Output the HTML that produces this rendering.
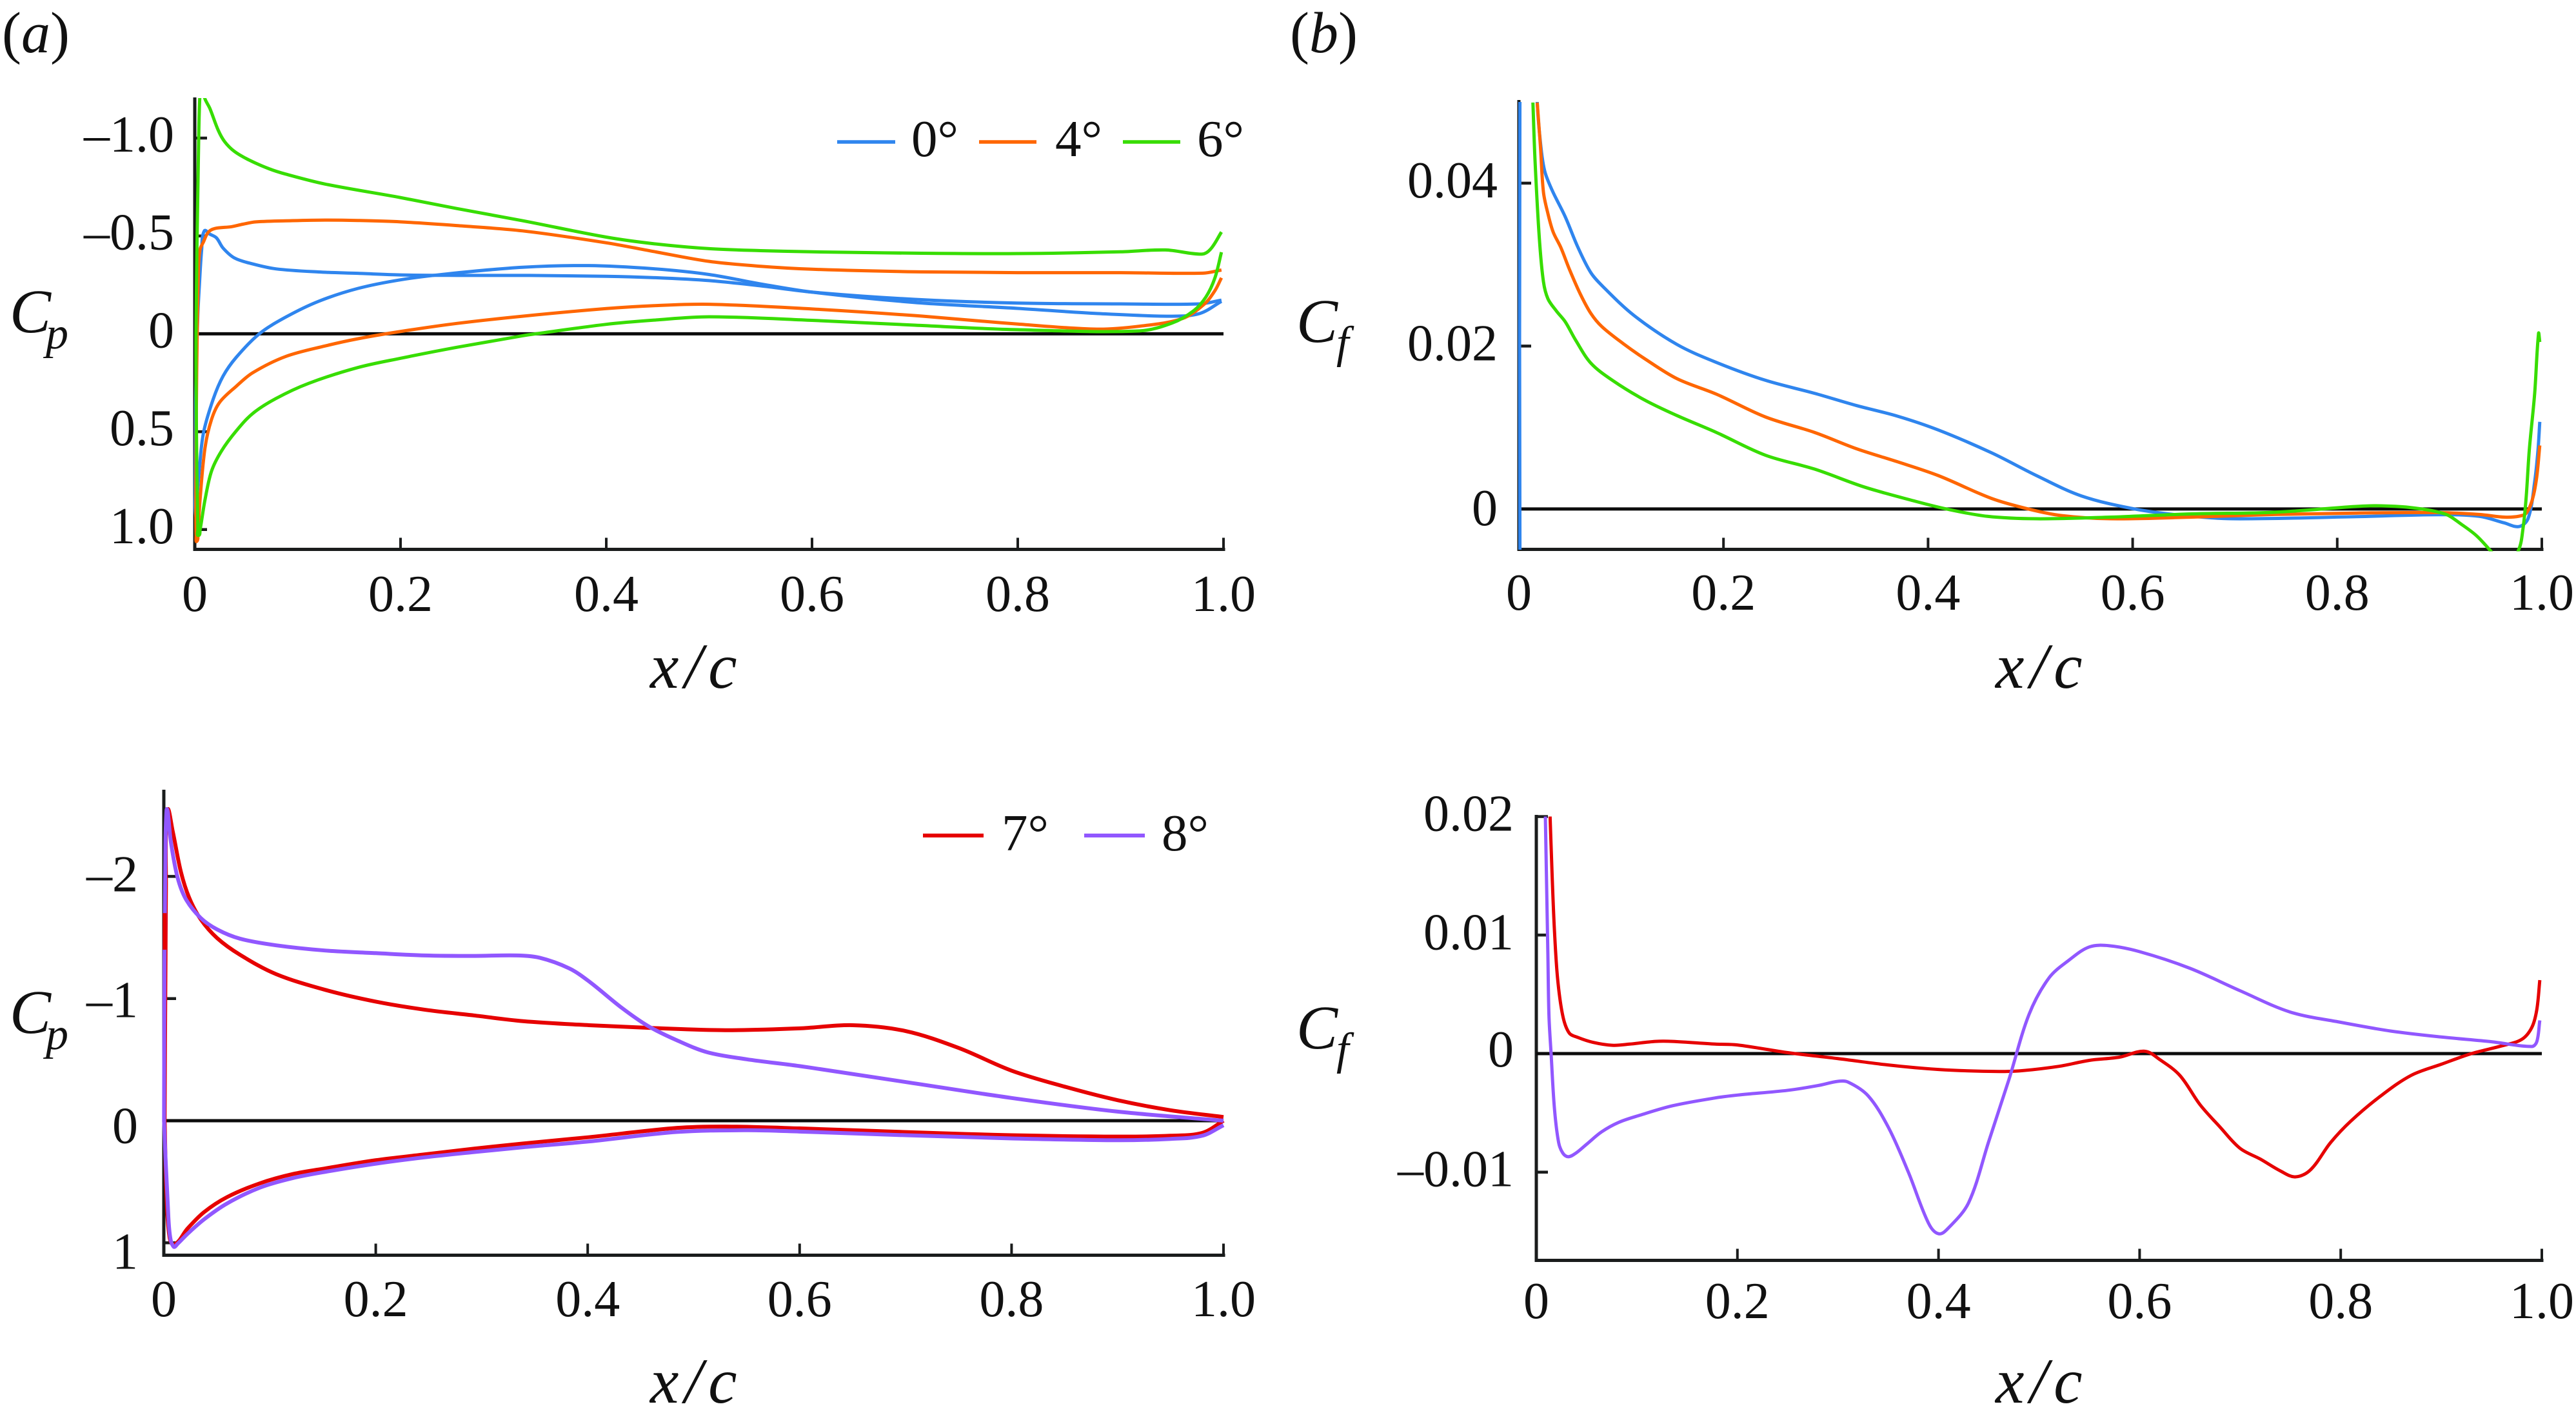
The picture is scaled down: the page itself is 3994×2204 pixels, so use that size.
<!DOCTYPE html>
<html lang="en">
<head>
<meta charset="utf-8">
<title>Pressure and skin friction coefficients</title>
<style>
html,body{margin:0;padding:0;background:#fff;width:3994px;height:2204px;overflow:hidden}
svg{display:block}
text{font-family:"Liberation Serif","Times New Roman",serif;fill:#111}
.tick{font-size:80px}
.leg{font-size:81px}
.it{font-style:italic}
.title{font-size:100px;font-style:italic}
.sym{font-size:96px;font-style:italic}
.sub{font-size:70px;font-style:italic}
.tag{font-size:90px}
</style>
</head>
<body>
<svg id="figure" xmlns="http://www.w3.org/2000/svg" width="3994" height="2204" viewBox="0 0 3994 2204">
  <rect width="3994" height="2204" fill="#fff"/>

  <text class="tag" x="3" y="81">(<tspan class="it">a</tspan>)</text>
  <text class="tag" x="2000" y="81">(<tspan class="it">b</tspan>)</text>

  <text x="15" y="515"><tspan class="sym">C</tspan><tspan class="sub" dx="-8" dy="25">p</tspan></text>
  <text x="2010" y="530"><tspan class="sym">C</tspan><tspan class="sub" dx="-2" dy="24">f</tspan></text>
  <text x="15" y="1601"><tspan class="sym">C</tspan><tspan class="sub" dx="-8" dy="25">p</tspan></text>
  <text x="2010" y="1625"><tspan class="sym">C</tspan><tspan class="sub" dx="-2" dy="24">f</tspan></text>

  <text class="title" x="1008" y="1066" letter-spacing="9">x/c</text>
  <text class="title" x="3094" y="1066" letter-spacing="9">x/c</text>
  <text class="title" x="1008" y="2174" letter-spacing="9">x/c</text>
  <text class="title" x="3094" y="2174" letter-spacing="9">x/c</text>

  <g id="marks"></g>

  <g>
    <g>
      <line x1="1298" y1="220" x2="1388" y2="220" stroke="#2f85ee" stroke-width="5.5"/>
      <text class="leg" x="1413" y="242">0°</text>
    </g>
    <g>
      <line x1="1518" y1="220" x2="1607" y2="220" stroke="#ff6600" stroke-width="5.5"/>
      <text class="leg" x="1636" y="242">4°</text>
    </g>
    <g>
      <line x1="1741" y1="220" x2="1830" y2="220" stroke="#37dd00" stroke-width="5.5"/>
      <text class="leg" x="1856" y="242">6°</text>
    </g>
  </g>
  <g>
    <g>
      <line x1="1431" y1="1295" x2="1525" y2="1295" stroke="#e60000" stroke-width="6"/>
      <text class="leg" x="1553" y="1318">7°</text>
    </g>
    <g>
      <line x1="1681" y1="1295" x2="1775" y2="1295" stroke="#9157ff" stroke-width="6"/>
      <text class="leg" x="1801" y="1318">8°</text>
    </g>
  </g>
</svg>

<script>
// Shared x-axis values
const xTickValues = [0, 0.2, 0.4, 0.6, 0.8, 1.0];
const xTickLabels = ['0', '0.2', '0.4', '0.6', '0.8', '1.0'];

// Panel a, Cp ticks
const aTickValues = [-1.0, -0.5, 0, 0.5, 1.0];
const aTickLabels = ['–1.0', '–0.5', '0', '0.5', '1.0'];
// Panel b, Cf ticks
const bTickValues = [0.04, 0.02, 0];
const bTickLabels = ['0.04', '0.02', '0'];
// Panel c, Cp ticks
const cTickValues = [-2, -1, 0, 1];
const cTickLabels = ['–2', '–1', '0', '1'];
// Panel d, Cf ticks
const dTickValues = [0.02, 0.01, 0, -0.01];
const dTickLabels = ['0.02', '0.01', '0', '–0.01'];

// Panel a, 0 degrees
const a0UpperX = [.0005,.001,.003,.0045,.0067,.0093,.0147,.0211,.0275,.0387,.0563,.0787,.1203,.1587,.2,.2546,.3186,.4,.4466,.5,.55,.6,.7,.8,.9,.977,.998];
const a0UpperCp = [.8,.3,-.1,-.25,-.431,-.526,-.509,-.49,-.438,-.387,-.357,-.332,-.316,-.309,-.301,-.2985,-.2985,-.294,-.287,-.272,-.245,-.213,-.176,-.157,-.153,-.153,-.172];
const a0LowerX = [.0005,.001,.002,.004,.0083,.0179,.0275,.0403,.0627,.0883,.1203,.1587,.2,.245,.3186,.3826,.4466,.5,.55,.6,.7,.8,.8767,.95,.977,.998];
const a0LowerCp = [.8,.93,.85,.72,.51,.334,.216,.12,0,-.085,-.166,-.232,-.276,-.306,-.34,-.3485,-.332,-.303,-.255,-.213,-.16,-.13,-.104,-.09,-.104,-.166];
// Panel a, 4 degrees
const a4UpperX = [.001,.0015,.002,.0036,.0051,.0083,.0131,.0195,.0355,.0467,.0595,.0947,.1267,.1587,.2,.2546,.3186,.4,.4466,.5,.55,.6,.7,.8,.9,.98,.998];
const a4UpperCp = [.9,.4,.14,-.33,-.431,-.468,-.519,-.538,-.547,-.56,-.572,-.578,-.581,-.579,-.572,-.553,-.526,-.465,-.42,-.37,-.345,-.33,-.317,-.3125,-.3125,-.31,-.326];
const a4LowerX = [.001,.0013,.002,.003,.0051,.0099,.0163,.0243,.0403,.0563,.0883,.1267,.1587,.2,.2546,.3186,.4,.4466,.5,.6,.7,.8,.8767,.9185,.96,.981,.9916,.998];
const a4LowerCp = [.9,1.03,1.06,1.02,.849,.584,.437,.349,.268,.199,.116,.062,.025,-.012,-.053,-.09,-.129,-.144,-.151,-.127,-.093,-.05,-.024,-.039,-.078,-.15,-.22,-.286];
// Panel a, 6 degrees
const a6UpperX = [.0012,.0012,.002,.0035,.0048,.0070,.0093,.0147,.0227,.029,.0387,.0531,.0723,.0883,.1267,.2,.2546,.3186,.4,.4466,.5,.55,.6,.7,.8,.9,.9436,.979,.9875,.998];
const a6UpperCp = [.22,0,-.4,-.9,-1.2,-1.32,-1.21,-1.151,-1.041,-.982,-.931,-.887,-.843,-.816,-.765,-.696,-.64,-.578,-.494,-.46,-.435,-.425,-.419,-.412,-.41,-.419,-.4285,-.407,-.433,-.52];
const a6LowerX = [.0012,.002,.003,.0035,.0052,.0099,.0163,.0259,.0403,.0563,.0787,.1107,.1587,.2,.2546,.3186,.3314,.4,.4466,.5,.6,.7,.8,.9185,.95,.971,.983,.9916,.998];
const a6LowerCp = [.22,.7,1.0,1.03,1.0,.849,.701,.599,.496,.407,.331,.253,.172,.125,.069,.01,0,-.0485,-.07,-.087,-.069,-.044,-.021,-.015,-.055,-.118,-.189,-.285,-.417];

// Panel b, 0 degrees
const b0X = [.001,.001,.005,.012,.0179,.0214,.0252,.0326,.0452,.0578,.0704,.083,.1125,.1545,.193,.241,.289,.33,.37,.41,.462,.506,.55,.602,.65,.698,.819,.899,.939,.963,.978,.9868,.993,.9963,.998];
const b0Cf = [-.005,.05,.07,.07,.05,.0446,.0415,.0391,.0359,.0321,.029,.0272,.02376,.0202,.018,.0158,.0142,.0127,.0114,.0097,.0069,.0041,.0016,0,-.0008,-.0012,-.00094,-.0007,-.0009,-.0017,-.00215,-.0011,.00334,.0073,.0107];
// Panel b, 4 degrees
const b4X = [.0179,.021,.024,.0284,.0335,.041,.0493,.06,.0704,.081,.102,.123,.1545,.193,.241,.289,.33,.37,.41,.462,.498,.53,.578,.658,.7386,.819,.899,.939,.9636,.978,.985,.991,.995,.998];
const b4Cf = [.0499,.0446,.0389,.03625,.034,.0321,.02945,.0264,.024,.0224,.0203,.01845,.016,.0141,.0113,.0094,.0074,.0058,.0041,.0013,0,-.0008,-.0012,-.001,-.00067,-.0005,-.00044,-.00067,-.001,-.00088,-.00048,.00126,.0039,.0078];
// Panel b, 6 degrees
const b6X = [.0137,.0158,.02,.024,.0284,.0367,.0452,.0556,.0704,.0914,.123,.1545,.193,.241,.289,.3376,.386,.418,.458,.506,.578,.658,.7386,.8165,.8375,.87,.905,.9216,.9363,.951,.965,.9777,.9815,.9846,.9878,.993,.9968,.998];
const b6Cf = [.0499,.0427,.0332,.0279,.0258,.0243,.023,.0207,.0179,.0158,.01337,.01147,.0094,.0066,.0049,.0027,.001,0,-.0009,-.0012,-.001,-.0006,-.0004,.0003,.0004,.0002,-.0006,-.0019,-.0033,-.0053,-.0075,-.0049,-.0025,.00126,.0073,.01416,.02155,.0205];

// Panel c, 7 degrees
const c7UpperX = [.0008,.002,.0036,.0084,.0161,.0239,.0348,.0503,.072,.106,.1528,.2,.246,.2925,.339,.4012,.4634,.53,.6,.65,.7,.75,.8,.85,.9,.95,1.0];
const c7UpperCp = [0,-1.9,-2.54,-2.369,-2.038,-1.826,-1.649,-1.495,-1.358,-1.2,-1.07,-.975,-.909,-.862,-.815,-.782,-.758,-.741,-.756,-.782,-.734,-.596,-.41,-.279,-.168,-.0857,-.03];
const c7LowerX = [.0008,.0025,.0055,.0099,.0224,.0379,.0596,.0907,.1217,.1528,.2,.246,.2925,.339,.4012,.4845,.53,.6,.7,.8,.9,.95,.98,1.0];
const c7LowerCp = [0,.6,.96,1.015,.883,.749,.626,.5125,.437,.39,.3236,.276,.229,.187,.135,.059,.048,.063,.093,.119,.13,.123,.1,0];
// Panel c, 8 degrees
const c8UpperX = [.0002,.0006,.0016,.0024,.0031,.0042,.0068,.013,.0208,.0348,.0503,.072,.106,.1528,.2,.246,.2925,.333,.3547,.3826,.4012,.4323,.457,.4845,.513,.55,.6,.7,.8,.9,1.0];
const c8UpperCp = [0,-1.3,-2.3,-2.52,-2.55,-2.49,-2.274,-1.99,-1.814,-1.66,-1.566,-1.49,-1.436,-1.393,-1.372,-1.353,-1.349,-1.353,-1.334,-1.247,-1.141,-.923,-.775,-.657,-.56,-.503,-.447,-.3166,-.186,-.0745,0];
const c8LowerX = [.0002,.0016,.0037,.0057,.0093,.013,.0224,.0379,.0596,.0907,.1217,.1528,.2,.246,.2925,.339,.4012,.4845,.55,.6,.7,.8,.9,.95,.98,1.0];
const c8LowerCp = [0,.304,.68,.935,1.032,1.008,.926,.808,.678,.548,.47,.418,.352,.3,.257,.217,.17,.092,.078,.089,.119,.145,.16,.149,.123,.037];
// Panel c, short red stretch visible on the leading edge
const c7EdgeX = [.0008,.0008];
const c7EdgeCp = [-1.4,-1.7];

// Panel d, 7 degrees
const d7X = [.0137,.0158,.018,.0212,.0264,.0327,.0415,.0564,.0756,.0927,.1184,.1355,.178,.2,.25,.3,.35,.4,.45,.48,.52,.55,.58,.605,.62,.64,.66,.68,.7,.72,.74,.755,.77,.79,.81,.84,.87,.9,.93,.96,.98,.99,.995,.998];
const d7Cf = [.02,.01488,.01045,.0063,.00316,.00174,.00136,.00095,.0007,.0008,.00103,.00103,.0008,.00073,.00008,-.00042,-.00096,-.00134,-.0015,-.00146,-.00107,-.00057,-.0003,.0002,-.0005,-.00184,-.0043,-.0062,-.008,-.0089,-.0099,-.0104,-.0098,-.0075,-.0057,-.00356,-.00184,-.0009,0,.00065,.0012,.0022,.0037,.0062];
// Panel d, 8 degrees
const d8X = [.009,.0115,.0126,.0147,.018,.0222,.0264,.0318,.0393,.05,.065,.082,.103,.1355,.178,.2,.25,.28,.3,.31,.33,.35,.37,.39,.4,.41,.43,.45,.47,.49,.51,.53,.55,.57,.6,.65,.7,.75,.8,.85,.9,.95,.99,.995,.998];
const d8Cf = [.02,.0084,.00316,0,-.0046,-.0075,-.0084,-.0087,-.0084,-.00765,-.0066,-.0058,-.0052,-.0044,-.00374,-.0035,-.0031,-.0027,-.00234,-.0024,-.00356,-.0062,-.01,-.0143,-.0152,-.0147,-.01257,-.0074,-.0022,.0033,.0064,.0079,.009,.0091,.0086,.0072,.0053,.0035,.00264,.0019,.0014,.001,.0006,.001,.0028];

const COLOR_0 = '#2f85ee', COLOR_4 = '#ff6600', COLOR_6 = '#37dd00', COLOR_7 = '#e60000', COLOR_8 = '#9157ff';
const AXIS = '#1a1c1c';
const NS = 'http://www.w3.org/2000/svg';
const root = document.getElementById('marks');

function linear(d0, d1, r0, r1) {
  return v => r0 + (v - d0) * (r1 - r0) / (d1 - d0);
}

function svgEl(tag, parent, name) {
  const el = document.createElementNS(NS, tag);
  
  
  parent.appendChild(el);
  return el;
}

function seg(parent, name, x1, y1, x2, y2, color, w) {
  const l = svgEl('line', parent, name);
  l.setAttribute('x1', x1); l.setAttribute('y1', y1);
  l.setAttribute('x2', x2); l.setAttribute('y2', y2);
  l.setAttribute('stroke', color); l.setAttribute('stroke-width', w);
  return l;
}

function curvePath(pts) {
  let d = 'M' + pts[0][0].toFixed(2) + ' ' + pts[0][1].toFixed(2);
  const tangent = i => {
    const a = pts[Math.max(i - 1, 0)], b = pts[Math.min(i + 1, pts.length - 1)];
    const dx = b[0] - a[0], dy = b[1] - a[1], n = Math.hypot(dx, dy) || 1;
    return [dx / n, dy / n];
  };
  for (let i = 0; i < pts.length - 1; i++) {
    const p = pts[i], q = pts[i + 1], len = Math.hypot(q[0] - p[0], q[1] - p[1]) / 3;
    const t0 = tangent(i), t1 = tangent(i + 1);
    d += 'C' + (p[0] + t0[0] * len).toFixed(2) + ' ' + (p[1] + t0[1] * len).toFixed(2) + ' '
       + (q[0] - t1[0] * len).toFixed(2) + ' ' + (q[1] - t1[1] * len).toFixed(2) + ' '
       + q[0].toFixed(2) + ' ' + q[1].toFixed(2);
  }
  return d;
}

function makePanel(cfg) {
  const g = svgEl('g', root, 'panel-' + cfg.id);
  const sx = linear(0, 1, cfg.x0, cfg.x1);
  const sy = linear(cfg.yRef[0], cfg.yRef[1], cfg.pxRef[0], cfg.pxRef[1]);

  const clip = document.createElementNS(NS, 'clipPath');
  clip.setAttribute('id', 'clip-' + cfg.id);
  const cr = document.createElementNS(NS, 'rect');
  cr.setAttribute('x', cfg.x0 - 10);
  cr.setAttribute('y', cfg.clipTop);
  cr.setAttribute('width', cfg.x1 - cfg.x0 + 20);
  cr.setAttribute('height', cfg.axisY - cfg.clipTop + 3);
  clip.appendChild(cr);
  g.appendChild(clip);

  seg(g, 'y-axis-' + cfg.id, cfg.x0, cfg.axisTop, cfg.x0, cfg.axisY + 2.5, AXIS, 5);
  seg(g, 'x-axis-' + cfg.id, cfg.x0 - 2.5, cfg.axisY, cfg.x1 + 2.5, cfg.axisY, AXIS, 5);

  xTickValues.forEach((v, i) => {
    seg(g, 'x-tick-' + cfg.id, sx(v), cfg.axisY, sx(v), cfg.axisY - 18, AXIS, 4);
    const t = svgEl('text', g, 'x-tick-label-' + cfg.id);
    t.setAttribute('class', 'tick');
    t.setAttribute('x', sx(v));
    t.setAttribute('y', cfg.xLabelY);
    t.setAttribute('text-anchor', 'middle');
    t.textContent = xTickLabels[i];
  });

  cfg.yTicks.forEach((v, i) => {
    if (v !== 0) seg(g, 'y-tick-' + cfg.id, cfg.x0, sy(v), cfg.x0 + cfg.tickLen, sy(v), AXIS, 4.5);
    const t = svgEl('text', g, 'y-tick-label-' + cfg.id);
    t.setAttribute('class', 'tick');
    t.setAttribute('x', cfg.yLabelRight);
    t.setAttribute('y', sy(v) + cfg.labelShift(v));
    t.setAttribute('text-anchor', 'end');
    t.textContent = cfg.yLabels[i];
  });

  seg(g, 'zero-line-' + cfg.id, cfg.x0, sy(0), cfg.x1, sy(0), '#0c0c0c', 5);

  const marks = svgEl('g', g, 'series-group-' + cfg.id);
  marks.setAttribute('clip-path', 'url(#clip-' + cfg.id + ')');
  cfg.series.forEach(s => {
    const p = svgEl('path', marks, s.name);
    p.setAttribute('d', curvePath(s.x.map((v, i) => [sx(v), sy(s.y[i])])));
    p.setAttribute('fill', 'none');
    p.setAttribute('stroke', s.color);
    p.setAttribute('stroke-width', cfg.lineWidth);
    p.setAttribute('stroke-linejoin', 'round');
  });
  return g;
}

makePanel({
  id: 'a', x0: 302, x1: 1897, axisTop: 151, axisY: 851.5, clipTop: 152, tickLen: 19,
  yRef: [0, 1], pxRef: [517.4, 820.8], xLabelY: 947, yLabelRight: 270, lineWidth: 5,
  yTicks: aTickValues, yLabels: aTickLabels, labelShift: v => 21,
  series: [
    {name: 'line-cp-0deg-upper', color: COLOR_0, x: a0UpperX, y: a0UpperCp},
    {name: 'line-cp-0deg-lower', color: COLOR_0, x: a0LowerX, y: a0LowerCp},
    {name: 'line-cp-4deg-upper', color: COLOR_4, x: a4UpperX, y: a4UpperCp},
    {name: 'line-cp-4deg-lower', color: COLOR_4, x: a4LowerX, y: a4LowerCp},
    {name: 'line-cp-6deg-upper', color: COLOR_6, x: a6UpperX, y: a6UpperCp},
    {name: 'line-cp-6deg-lower', color: COLOR_6, x: a6LowerX, y: a6LowerCp}
  ]
});

makePanel({
  id: 'b', x0: 2355, x1: 3941, axisTop: 155, axisY: 851.5, clipTop: 158, tickLen: 19,
  yRef: [0, 0.02], pxRef: [788.9, 536.4], xLabelY: 945, yLabelRight: 2322, lineWidth: 5,
  yTicks: bTickValues, yLabels: bTickLabels, labelShift: v => v === 0 ? 25 : 22,
  series: [
    {name: 'line-cf-0deg', color: COLOR_0, x: b0X, y: b0Cf},
    {name: 'line-cf-4deg', color: COLOR_4, x: b4X, y: b4Cf},
    {name: 'line-cf-6deg', color: COLOR_6, x: b6X, y: b6Cf}
  ]
});

makePanel({
  id: 'c', x0: 254, x1: 1897, axisTop: 1224, axisY: 1945.5, clipTop: 1224, tickLen: 19,
  yRef: [0, 1], pxRef: [1737, 1926.3], xLabelY: 2040, yLabelRight: 214, lineWidth: 6,
  yTicks: cTickValues, yLabels: cTickLabels, labelShift: v => 34.3 + 5.67 * v,
  series: [
    {name: 'line-cp-7deg-upper', color: COLOR_7, x: c7UpperX, y: c7UpperCp},
    {name: 'line-cp-7deg-lower', color: COLOR_7, x: c7LowerX, y: c7LowerCp},
    {name: 'line-cp-8deg-upper', color: COLOR_8, x: c8UpperX, y: c8UpperCp},
    {name: 'line-cp-8deg-lower', color: COLOR_8, x: c8LowerX, y: c8LowerCp},
    {name: 'line-cp-7deg-leading-edge', color: COLOR_7, x: c7EdgeX, y: c7EdgeCp}
  ]
});

makePanel({
  id: 'd', x0: 2382, x1: 3941, axisTop: 1263, axisY: 1953.5, clipTop: 1265, tickLen: 18,
  yRef: [0, 0.01], pxRef: [1633, 1449.3], xLabelY: 2043, yLabelRight: 2347, lineWidth: 5,
  yTicks: dTickValues, yLabels: dTickLabels, labelShift: v => v === 0 ? 20 : 22,
  series: [
    {name: 'line-cf-7deg', color: COLOR_7, x: d7X, y: d7Cf},
    {name: 'line-cf-8deg', color: COLOR_8, x: d8X, y: d8Cf}
  ]
});
</script>
</body>
</html>
